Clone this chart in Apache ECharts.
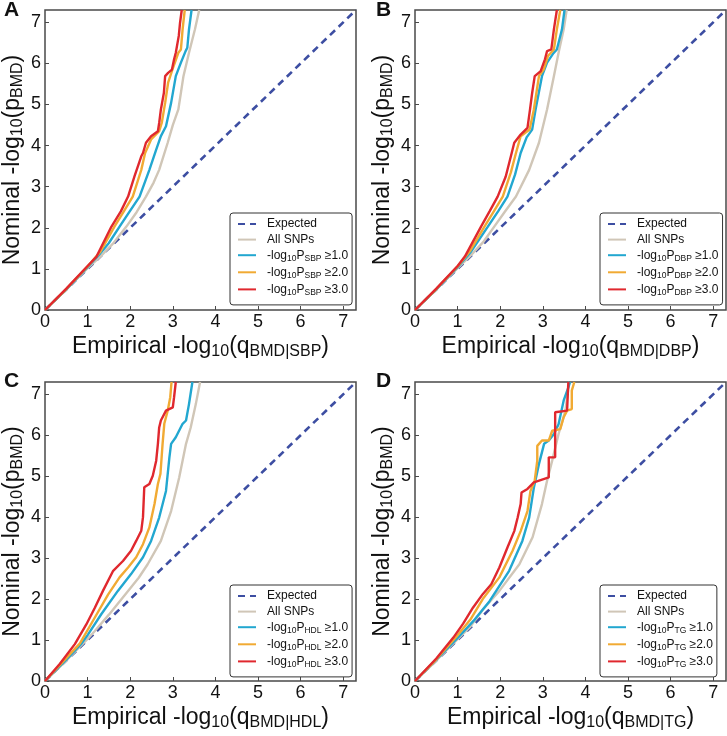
<!DOCTYPE html>
<html>
<head>
<meta charset="utf-8">
<script src="https://cdn.jsdelivr.net/npm/echarts@6/dist/echarts.min.js"></script>
<style>
html,body{margin:0;padding:0;background:#fff;}
#chart{width:727px;height:736px;}
</style>
</head>
<body>
<div id="chart"></div>
<script>
// ---------------- data ----------------
const LETTERS = ['A', 'B', 'C', 'D'];
const TRAITS = ['SBP', 'DBP', 'HDL', 'TG'];
const THRESHOLDS = ['1.0', '2.0', '3.0'];
const AXIS_TICKS = [0, 1, 2, 3, 4, 5, 6, 7];
const EXPECTED = [[0, 0], [7.3, 7.3]];

const A_all = [[0,0],[0.5,0.5],[1,1.02],[1.32,1.32],[1.6,1.62],[1.91,2.03],[2.15,2.38],[2.37,2.76],[2.55,3.1],[2.68,3.41],[2.88,4.07],[3.0,4.5],[3.13,4.88],[3.25,5.69],[3.38,6.26],[3.52,6.83],[3.62,7.3]];
const A_p1 = [[0,0],[0.5,0.5],[1,1.04],[1.3,1.38],[1.5,1.63],[1.75,2.03],[2.0,2.42],[2.22,2.76],[2.45,3.41],[2.61,3.9],[2.72,4.23],[2.84,4.47],[2.96,5.04],[3.07,5.69],[3.19,6.02],[3.3,6.3],[3.34,6.38],[3.38,6.83],[3.44,7.3]];
const A_p2 = [[0,0],[0.5,0.51],[1,1.06],[1.3,1.42],[1.63,2.03],[1.85,2.4],[2.06,2.76],[2.26,3.41],[2.35,3.82],[2.49,4.15],[2.68,4.35],[2.74,4.55],[2.82,5.04],[2.89,5.53],[2.99,5.85],[3.13,6.26],[3.19,6.34],[3.23,6.83],[3.28,7.3]];
const A_p3 = [[0,0],[0.5,0.52],[1,1.07],[1.21,1.3],[1.56,2.03],[1.78,2.4],[1.95,2.76],[2.1,3.25],[2.26,3.74],[2.3,3.82],[2.37,4.07],[2.49,4.23],[2.65,4.35],[2.68,4.55],[2.72,4.88],[2.79,5.28],[2.82,5.69],[2.89,5.77],[2.98,5.85],[3.03,6.1],[3.07,6.26],[3.14,6.67],[3.17,6.99],[3.21,7.3]];

const B_all = [[0,0],[0.5,0.5],[1,1.02],[1.28,1.3],[1.6,1.65],[1.86,2.03],[2.1,2.38],[2.37,2.76],[2.68,3.41],[2.91,4.07],[3.1,4.88],[3.26,5.69],[3.37,6.26],[3.49,6.83],[3.56,7.3]];
const B_p1 = [[0,0],[0.5,0.5],[1,1.04],[1.3,1.4],[1.71,2.03],[1.95,2.4],[2.17,2.76],[2.35,3.3],[2.48,3.82],[2.62,4.2],[2.75,4.39],[2.83,4.88],[2.98,5.69],[3.1,6.02],[3.25,6.25],[3.33,6.34],[3.45,6.83],[3.51,7.3]];
const B_p2 = [[0,0],[0.5,0.51],[1,1.06],[1.3,1.45],[1.63,2.03],[1.85,2.4],[2.06,2.76],[2.25,3.35],[2.37,3.82],[2.48,4.23],[2.69,4.39],[2.79,4.88],[2.91,5.69],[3.02,5.85],[3.12,6.18],[3.26,6.34],[3.33,6.83],[3.41,7.3]];
const B_p3 = [[0,0],[0.5,0.52],[1,1.07],[1.17,1.3],[1.55,2.03],[1.75,2.4],[1.94,2.76],[2.13,3.25],[2.27,3.82],[2.33,4.07],[2.48,4.27],[2.64,4.43],[2.7,4.88],[2.75,5.28],[2.81,5.69],[2.95,5.81],[3.05,6.1],[3.1,6.3],[3.2,6.34],[3.26,6.83],[3.33,7.3]];

const C_all = [[0,0],[0.5,0.5],[1,1.03],[1.17,1.22],[1.5,1.62],[1.95,2.2],[2.2,2.52],[2.41,2.85],[2.72,3.42],[2.96,4.15],[3.15,4.97],[3.31,5.79],[3.42,6.19],[3.54,6.76],[3.64,7.3]];
const C_p1 = [[0,0],[0.5,0.52],[0.86,0.92],[1.0,1.12],[1.32,1.63],[1.71,2.2],[2.02,2.61],[2.3,3.02],[2.49,3.42],[2.68,3.99],[2.84,4.64],[2.92,5.46],[2.96,5.79],[3.07,5.95],[3.23,6.28],[3.31,6.36],[3.38,6.76],[3.46,7.3]];
const C_p2 = [[0,0],[0.4,0.45],[0.82,0.92],[1.17,1.55],[1.48,2.11],[1.75,2.53],[1.95,2.77],[2.14,3.02],[2.3,3.34],[2.45,3.75],[2.57,4.32],[2.65,4.81],[2.71,5.06],[2.76,5.79],[2.8,6.28],[2.88,6.6],[2.94,6.93],[2.97,7.3]];
const C_p3 = [[0,0],[0.35,0.42],[0.7,0.9],[0.97,1.38],[1.17,1.79],[1.36,2.2],[1.6,2.69],[1.83,2.93],[2.02,3.18],[2.14,3.42],[2.26,3.67],[2.3,4.0],[2.33,4.73],[2.45,4.81],[2.53,5.01],[2.61,5.38],[2.65,5.79],[2.68,6.19],[2.72,6.36],[2.84,6.6],[3.0,6.68],[3.03,6.93],[3.07,7.3]];

const D_all = [[0,0],[0.5,0.5],[1,1.02],[1.3,1.33],[1.6,1.75],[1.98,2.2],[2.45,2.85],[2.76,3.51],[2.98,4.32],[3.1,4.89],[3.22,5.38],[3.37,6.03],[3.53,6.6],[3.62,7.3]];
const D_p1 = [[0,0],[0.5,0.52],[1.0,1.05],[1.4,1.5],[1.75,1.95],[2.21,2.69],[2.52,3.42],[2.68,3.99],[2.79,4.72],[2.91,5.3],[3.03,5.79],[3.14,5.87],[3.26,6.03],[3.37,6.27],[3.49,6.85],[3.6,7.17],[3.64,7.3]];
const D_p2 = [[0,0],[0.5,0.53],[0.97,1.08],[1.3,1.5],[1.59,2.0],[1.98,2.53],[2.29,3.18],[2.48,3.66],[2.64,4.15],[2.71,4.64],[2.81,4.89],[2.87,5.38],[2.87,5.74],[2.98,5.87],[3.14,5.87],[3.22,6.11],[3.41,6.15],[3.49,6.44],[3.57,6.6],[3.68,6.64],[3.68,7.09],[3.74,7.3]];
const D_p3 = [[0,0],[0.5,0.55],[0.9,1.06],[1.13,1.4],[1.36,1.79],[1.59,2.12],[1.79,2.36],[1.98,2.77],[2.17,3.26],[2.33,3.66],[2.41,3.99],[2.48,4.32],[2.5,4.6],[2.64,4.69],[2.79,4.85],[3.14,4.97],[3.14,5.46],[3.29,5.46],[3.29,6.56],[3.57,6.6],[3.59,7.09],[3.6,7.3]];

const PANEL_DATA = [
  [A_all, A_p1, A_p2, A_p3],
  [B_all, B_p1, B_p2, B_p3],
  [C_all, C_p1, C_p2, C_p3],
  [D_all, D_p1, D_p2, D_p3]
];

// ---------------- styling / layout ----------------
const FONT = 'Liberation Sans, Arial, Helvetica, sans-serif';
const COLORS = { exp: '#3d4ea2', all: '#d0c6b7', p1: '#22a7d0', p2: '#f1aa33', p3: '#e0282e' };
const GRIDS = [
  { left: 43, top: 10, width: 313, height: 300 },
  { left: 415, top: 10, width: 311, height: 300 },
  { left: 43, top: 382, width: 313, height: 299 },
  { left: 415, top: 382, width: 311, height: 299 }
];
const LEGEND_POS = [
  { left: 230, top: 213 },
  { left: 600, top: 213 },
  { left: 230, top: 585 },
  { left: 600, top: 585 }
];
const LETTER_POS = [[4, 0], [376, 0], [4, 371], [376, 371]];

const grid = [], xAxis = [], yAxis = [], series = [], legend = [], graphic = [];

PANEL_DATA.forEach((pd, i) => {
  const t = TRAITS[i];
  const L = LETTERS[i];
  grid.push(Object.assign({ show: true, borderColor: '#4a4a4a', borderWidth: 1.5, backgroundColor: '#fff' }, GRIDS[i]));
  const axisCommon = {
    gridIndex: i, type: 'value', min: 0, max: 7.3, interval: 1,
    nameLocation: 'middle',
    axisLine: { show: false },
    axisTick: { show: true, inside: true, length: 4, lineStyle: { color: '#4a4a4a', width: 1 } },
    splitLine: { show: false },
    axisLabel: {
      fontSize: 18, color: '#111', fontFamily: FONT, showMaxLabel: false,
      formatter: v => (AXIS_TICKS.indexOf(v) >= 0 ? String(v) : '')
    },
    nameTextStyle: {
      fontSize: 23, color: '#111', fontFamily: FONT,
      rich: {
        m: { fontSize: 23, color: '#111', fontFamily: FONT },
        s: { fontSize: 16, color: '#111', fontFamily: FONT, padding: [11, 0, 0, 0] }
      }
    }
  };
  xAxis.push(Object.assign({}, axisCommon, {
    name: '{m|Empirical -log}{s|10}{m|(q}{s|BMD|' + t + '}{m|)}',
    nameGap: 23,
    axisLabel: Object.assign({}, axisCommon.axisLabel, { margin: 3 })
  }));
  yAxis.push(Object.assign({}, axisCommon, {
    name: '{m|Nominal -log}{s|10}{m|(p}{s|BMD}{m|)}',
    nameGap: 19,
    axisLabel: Object.assign({}, axisCommon.axisLabel, { margin: 4 })
  }));

  const keys = ['exp', 'all', 'p1', 'p2', 'p3'];
  const datas = [EXPECTED, pd[0], pd[1], pd[2], pd[3]];
  keys.forEach((k, j) => {
    series.push({
      name: L + '_' + k,
      type: 'line',
      xAxisIndex: i, yAxisIndex: i,
      data: datas[j],
      symbol: 'none', showSymbol: false,
      smooth: false,
      silent: true,
      animation: false,
      color: COLORS[k],
      lineStyle: k === 'exp'
        ? { color: COLORS[k], width: 2.6, type: [7, 5] }
        : { color: COLORS[k], width: 2.4 },
      z: 2 + j
    });
  });

  legend.push(Object.assign({
    data: keys.map(k => L + '_' + k),
    orient: 'vertical',
    itemWidth: 18, itemHeight: 13, itemGap: 3.6,
    padding: [5, 4, 8, 7],
    borderColor: '#333', borderWidth: 1, borderRadius: 3,
    backgroundColor: '#fff',
    selectedMode: false,
    itemStyle: { opacity: 0 },
    formatter: name => {
      const k = name.split('_')[1];
      if (k === 'exp') return 'Expected';
      if (k === 'all') return 'All SNPs';
      const thr = THRESHOLDS[Number(k.slice(1)) - 1];
      return '-log{s|10}P{s|' + t + '} ≥' + thr;
    },
    textStyle: {
      fontSize: 12, color: '#111', fontFamily: FONT, padding: [0, 0, 0, 6],
      rich: { s: { fontSize: 8.5, color: '#111', fontFamily: FONT, padding: [6, 0, 0, 0] } }
    }
  }, LEGEND_POS[i]));

  graphic.push({
    type: 'text', left: LETTER_POS[i][0], top: LETTER_POS[i][1],
    style: { text: L, fontSize: 21, fontWeight: 'bold', fill: '#111', fontFamily: FONT }
  });
});

const chart = echarts.init(document.getElementById('chart'), null, { renderer: 'canvas' });
chart.setOption({
  animation: false,
  backgroundColor: '#fff',
  grid, xAxis, yAxis, series, legend, graphic
});
</script>
</body>
</html>
